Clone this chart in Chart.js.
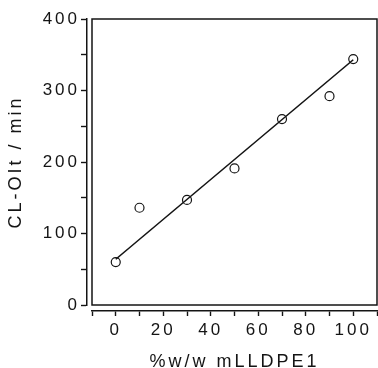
<!DOCTYPE html>
<html>
<head>
<meta charset="utf-8">
<script src="https://cdn.jsdelivr.net/npm/chart.js@4"></script>
<style>
  html, body { margin: 0; padding: 0; background: #fff; }
  #wrap { width: 378px; height: 368px; }
</style>
</head>
<body>
<div id="wrap"><canvas id="c" width="378" height="368"></canvas></div>
<script>
(function () {
  'use strict';

  // measured points: CL-OIT vs mLLDPE1 content
  var blendPct = [0, 10, 30, 50, 70, 90, 100];
  var oitMin = [60, 136, 147, 191, 260, 292, 344];

  // straight fit line as drawn (end points)
  var fitPct = [0, 100];
  var fitOit = [64, 343];

  var xTickLabels = [0, 20, 40, 60, 80, 100];
  var yTickLabels = [0, 100, 200, 300, 400];

  var ink = '#141414';
  var fontFam = '"Liberation Sans", Arial, Helvetica, sans-serif';

  function toXY(xs, ys) {
    return xs.map(function (x, i) { return { x: x, y: ys[i] }; });
  }

  // frame around the plot area + offset axes
  var framePlugin = {
    id: 'frame',
    afterLayout: function (chart) {
      var ys = chart.scales.y;
      ys.left -= 5;
      ys.right -= 5;
      chart.scales.x.top += 6;
    },
    beforeDraw: function (chart) {
      chart.ctx.letterSpacing = '3px';
    },
    beforeDatasetsDraw: function (chart) {
      var a = chart.chartArea;
      var ctx = chart.ctx;
      ctx.save();
      ctx.strokeStyle = ink;
      ctx.lineWidth = 1.5;
      ctx.strokeRect(a.left, a.top, a.right - a.left, a.bottom - a.top);
      ctx.restore();
    }
  };

  new Chart(document.getElementById('c').getContext('2d'), {
    type: 'scatter',
    data: {
      datasets: [
        {
          label: 'fit',
          data: toXY(fitPct, fitOit),
          showLine: true,
          borderColor: ink,
          borderWidth: 1.6,
          pointRadius: 0,
          fill: false
        },
        {
          label: 'CL-OIt',
          data: toXY(blendPct, oitMin),
          pointStyle: 'circle',
          pointRadius: 4.5,
          pointBackgroundColor: '#fff',
          pointBorderColor: ink,
          pointBorderWidth: 1.2
        }
      ]
    },
    options: {
      responsive: false,
      animation: false,
      layout: { autoPadding: false, padding: { top: 19, right: 1, left: 0, bottom: 0 } },
      plugins: { legend: { display: false }, tooltip: { enabled: false } },
      scales: {
        x: {
          type: 'linear',
          position: 'bottom',
          min: -10,
          max: 110,
          afterFit: function (s) {
            s.height = 63;
            s.paddingLeft = 0;
            s.paddingRight = 0;
          },
          ticks: {
            stepSize: 10,
            autoSkip: false,
            maxRotation: 0,
            padding: 4,
            color: ink,
            font: { family: fontFam, size: 17 },
            callback: function (v) { return xTickLabels.indexOf(v) >= 0 ? String(v) : ''; }
          },
          grid: { drawOnChartArea: false, drawTicks: true, tickLength: 5, tickWidth: 1.4, tickColor: ink },
          border: { display: true, color: ink, width: 1.5 },
          title: {
            display: true,
            text: '%w/w mLLDPE1',
            color: ink,
            font: { family: fontFam, size: 18, lineHeight: 1 },
            padding: { top: 0, bottom: -3 }
          }
        },
        y: {
          type: 'linear',
          position: 'left',
          min: 0,
          max: 400,
          afterFit: function (s) {
            s.width = 92;
            s.paddingTop = 0;
            s.paddingBottom = 0;
          },
          ticks: {
            stepSize: 50,
            autoSkip: false,
            padding: 1,
            color: ink,
            font: { family: fontFam, size: 17 },
            callback: function (v) { return yTickLabels.indexOf(v) >= 0 ? String(v) : ''; }
          },
          grid: { drawOnChartArea: false, drawTicks: true, tickLength: 6, tickWidth: 1.4, tickColor: ink },
          border: { display: true, color: ink, width: 1.5 },
          title: {
            display: true,
            text: 'CL-OIt / min',
            color: ink,
            font: { family: fontFam, size: 18, lineHeight: 1 },
            padding: { top: 12, bottom: 0 }
          }
        }
      }
    },
    plugins: [framePlugin]
  });
})();
</script>
</body>
</html>
